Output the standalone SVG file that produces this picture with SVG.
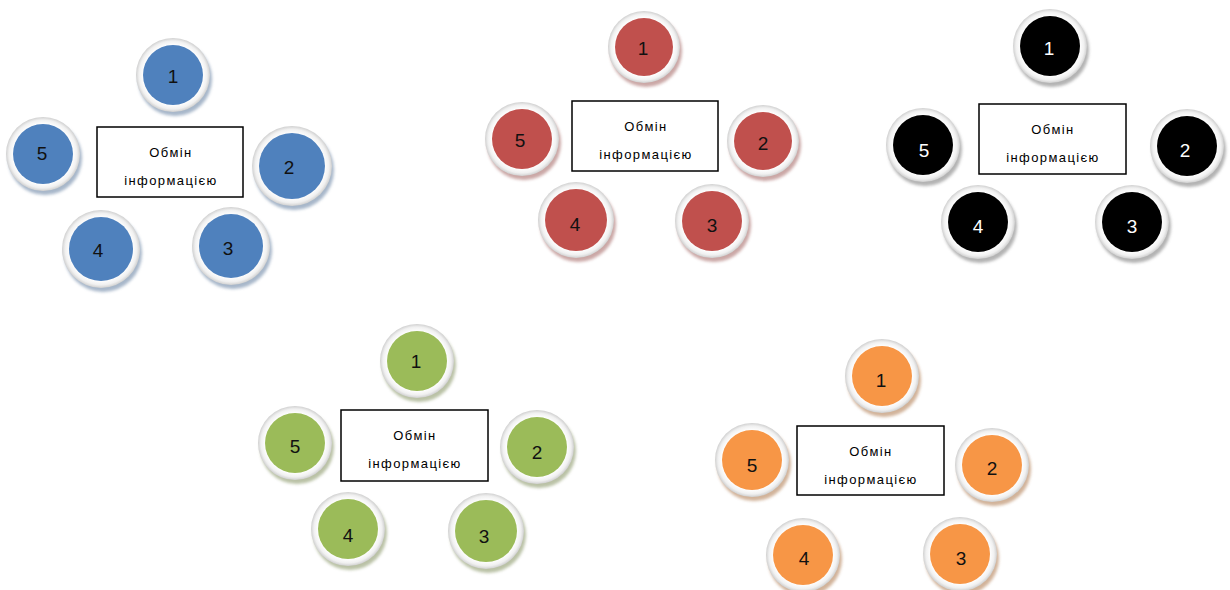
<svg xmlns="http://www.w3.org/2000/svg" width="1230" height="590" viewBox="0 0 1230 590">
<defs>
<radialGradient id="ring" cx="50%" cy="50%" r="50%">
<stop offset="0.8" stop-color="#ffffff"/>
<stop offset="0.92" stop-color="#f0f0f0"/>
<stop offset="1" stop-color="#d0d0d0"/>
</radialGradient>
<filter id="blur" x="-30%" y="-30%" width="160%" height="160%"><feGaussianBlur stdDeviation="1.6"/></filter>
<style>
.ring{fill:url(#ring)}
.sh{filter:url(#blur);opacity:0.75}
.num{font-family:"Liberation Sans",Arial,sans-serif;font-size:19px;text-anchor:middle;dominant-baseline:central;fill:#111}
.numw{fill:#ffffff}
.box{fill:#ffffff;stroke:#000;stroke-width:1.5}
.lbl{font-family:"Liberation Sans",Arial,sans-serif;font-size:13px;text-anchor:middle;fill:#000;letter-spacing:1.4px}
.blue{fill:#4F81BD}.blues{fill:#8a9fb8}
.red{fill:#C0504D}.reds{fill:#b98a88}
.black{fill:#000000}.blacks{fill:#9a9a9a}
.green{fill:#9BBB59}.greens{fill:#a3ad88}
.orange{fill:#F79646}.oranges{fill:#c29a78}
</style>
</defs>
<g id="connectors"></g>

<!-- Blue group -->
<g id="blue-center"><rect class="box" x="97" y="127" width="146" height="70"/><text class="lbl" x="171" y="157">Обмін</text><text class="lbl" x="171" y="185">інформацією</text></g>
<g id="blue-1"><circle class="sh blues" cx="175" cy="79" r="37"/><circle class="ring" cx="173" cy="75" r="37"/><circle class="blue" cx="173" cy="75" r="30"/><text class="num" x="173" y="76">1</text></g>
<g id="blue-2"><circle class="sh blues" cx="294" cy="170" r="40"/><circle class="ring" cx="292" cy="166" r="40"/><circle class="blue" cx="292" cy="166" r="33"/><text class="num" x="289" y="167">2</text></g>
<g id="blue-3"><circle class="sh blues" cx="233" cy="250" r="39"/><circle class="ring" cx="231" cy="246" r="39"/><circle class="blue" cx="231" cy="246" r="32"/><text class="num" x="228" y="248">3</text></g>
<g id="blue-4"><circle class="sh blues" cx="103" cy="253" r="39"/><circle class="ring" cx="101" cy="249" r="39"/><circle class="blue" cx="101" cy="249" r="32"/><text class="num" x="98" y="250">4</text></g>
<g id="blue-5"><circle class="sh blues" cx="45" cy="158" r="37"/><circle class="ring" cx="43" cy="154" r="37"/><circle class="blue" cx="43" cy="154" r="30"/><text class="num" x="42" y="153">5</text></g>

<!-- Red group -->
<g id="red-center"><rect class="box" x="572" y="101" width="146" height="70"/><text class="lbl" x="646" y="131">Обмін</text><text class="lbl" x="646" y="159">інформацією</text></g>
<g id="red-1"><circle class="sh reds" cx="646" cy="51" r="36"/><circle class="ring" cx="644" cy="47" r="36"/><circle class="red" cx="644" cy="47" r="29"/><text class="num" x="643" y="48">1</text></g>
<g id="red-2"><circle class="sh reds" cx="765" cy="145" r="36"/><circle class="ring" cx="763" cy="141" r="36"/><circle class="red" cx="763" cy="141" r="29"/><text class="num" x="763" y="143">2</text></g>
<g id="red-3"><circle class="sh reds" cx="714" cy="225" r="37"/><circle class="ring" cx="712" cy="221" r="37"/><circle class="red" cx="712" cy="221" r="30"/><text class="num" x="712" y="225">3</text></g>
<g id="red-4"><circle class="sh reds" cx="578" cy="224" r="38"/><circle class="ring" cx="576" cy="220" r="38"/><circle class="red" cx="576" cy="220" r="31"/><text class="num" x="575" y="224">4</text></g>
<g id="red-5"><circle class="sh reds" cx="524" cy="143" r="37"/><circle class="ring" cx="522" cy="139" r="37"/><circle class="red" cx="522" cy="139" r="30"/><text class="num" x="520" y="140">5</text></g>

<!-- Black group -->
<g id="black-center"><rect class="box" x="979" y="104" width="147" height="70"/><text class="lbl" x="1053" y="134">Обмін</text><text class="lbl" x="1053" y="162">інформацією</text></g>
<g id="black-1"><circle class="sh blacks" cx="1052" cy="50" r="37"/><circle class="ring" cx="1050" cy="46" r="37"/><circle class="black" cx="1050" cy="46" r="30"/><text class="num numw" x="1049" y="48">1</text></g>
<g id="black-2"><circle class="sh blacks" cx="1189" cy="150" r="37"/><circle class="ring" cx="1187" cy="146" r="37"/><circle class="black" cx="1187" cy="146" r="30"/><text class="num numw" x="1185" y="150">2</text></g>
<g id="black-3"><circle class="sh blacks" cx="1134" cy="226" r="37"/><circle class="ring" cx="1132" cy="222" r="37"/><circle class="black" cx="1132" cy="222" r="30"/><text class="num numw" x="1132" y="226">3</text></g>
<g id="black-4"><circle class="sh blacks" cx="980" cy="226" r="37"/><circle class="ring" cx="978" cy="222" r="37"/><circle class="black" cx="978" cy="222" r="30"/><text class="num numw" x="978" y="226">4</text></g>
<g id="black-5"><circle class="sh blacks" cx="925" cy="149" r="37"/><circle class="ring" cx="923" cy="145" r="37"/><circle class="black" cx="923" cy="145" r="30"/><text class="num numw" x="924" y="150">5</text></g>

<!-- Green group -->
<g id="green-center"><rect class="box" x="341" y="410" width="147" height="71"/><text class="lbl" x="415" y="440">Обмін</text><text class="lbl" x="415" y="468">інформацією</text></g>
<g id="green-1"><circle class="sh greens" cx="419" cy="365" r="37"/><circle class="ring" cx="417" cy="361" r="37"/><circle class="green" cx="417" cy="361" r="30"/><text class="num" x="416" y="361">1</text></g>
<g id="green-2"><circle class="sh greens" cx="539" cy="451" r="37"/><circle class="ring" cx="537" cy="447" r="37"/><circle class="green" cx="537" cy="447" r="30"/><text class="num" x="537" y="452">2</text></g>
<g id="green-3"><circle class="sh greens" cx="488" cy="535" r="38"/><circle class="ring" cx="486" cy="531" r="38"/><circle class="green" cx="486" cy="531" r="31"/><text class="num" x="484" y="536">3</text></g>
<g id="green-4"><circle class="sh greens" cx="350" cy="533" r="37"/><circle class="ring" cx="348" cy="529" r="37"/><circle class="green" cx="348" cy="529" r="30"/><text class="num" x="348" y="535">4</text></g>
<g id="green-5"><circle class="sh greens" cx="297" cy="447" r="37"/><circle class="ring" cx="295" cy="443" r="37"/><circle class="green" cx="295" cy="443" r="30"/><text class="num" x="295" y="446">5</text></g>

<!-- Orange group -->
<g id="orange-center"><rect class="box" x="797" y="426" width="147" height="69"/><text class="lbl" x="871" y="456">Обмін</text><text class="lbl" x="871" y="484">інформацією</text></g>
<g id="orange-1"><circle class="sh oranges" cx="884" cy="380" r="37"/><circle class="ring" cx="882" cy="376" r="37"/><circle class="orange" cx="882" cy="376" r="30"/><text class="num" x="881" y="380">1</text></g>
<g id="orange-2"><circle class="sh oranges" cx="994" cy="469" r="37"/><circle class="ring" cx="992" cy="465" r="37"/><circle class="orange" cx="992" cy="465" r="30"/><text class="num" x="992" y="468">2</text></g>
<g id="orange-3"><circle class="sh oranges" cx="962" cy="558" r="37"/><circle class="ring" cx="960" cy="554" r="37"/><circle class="orange" cx="960" cy="554" r="30"/><text class="num" x="961" y="558">3</text></g>
<g id="orange-4"><circle class="sh oranges" cx="805" cy="559" r="37"/><circle class="ring" cx="803" cy="555" r="37"/><circle class="orange" cx="803" cy="555" r="30"/><text class="num" x="804" y="558">4</text></g>
<g id="orange-5"><circle class="sh oranges" cx="754" cy="464" r="37"/><circle class="ring" cx="752" cy="460" r="37"/><circle class="orange" cx="752" cy="460" r="30"/><text class="num" x="752" y="465">5</text></g>
</svg>
